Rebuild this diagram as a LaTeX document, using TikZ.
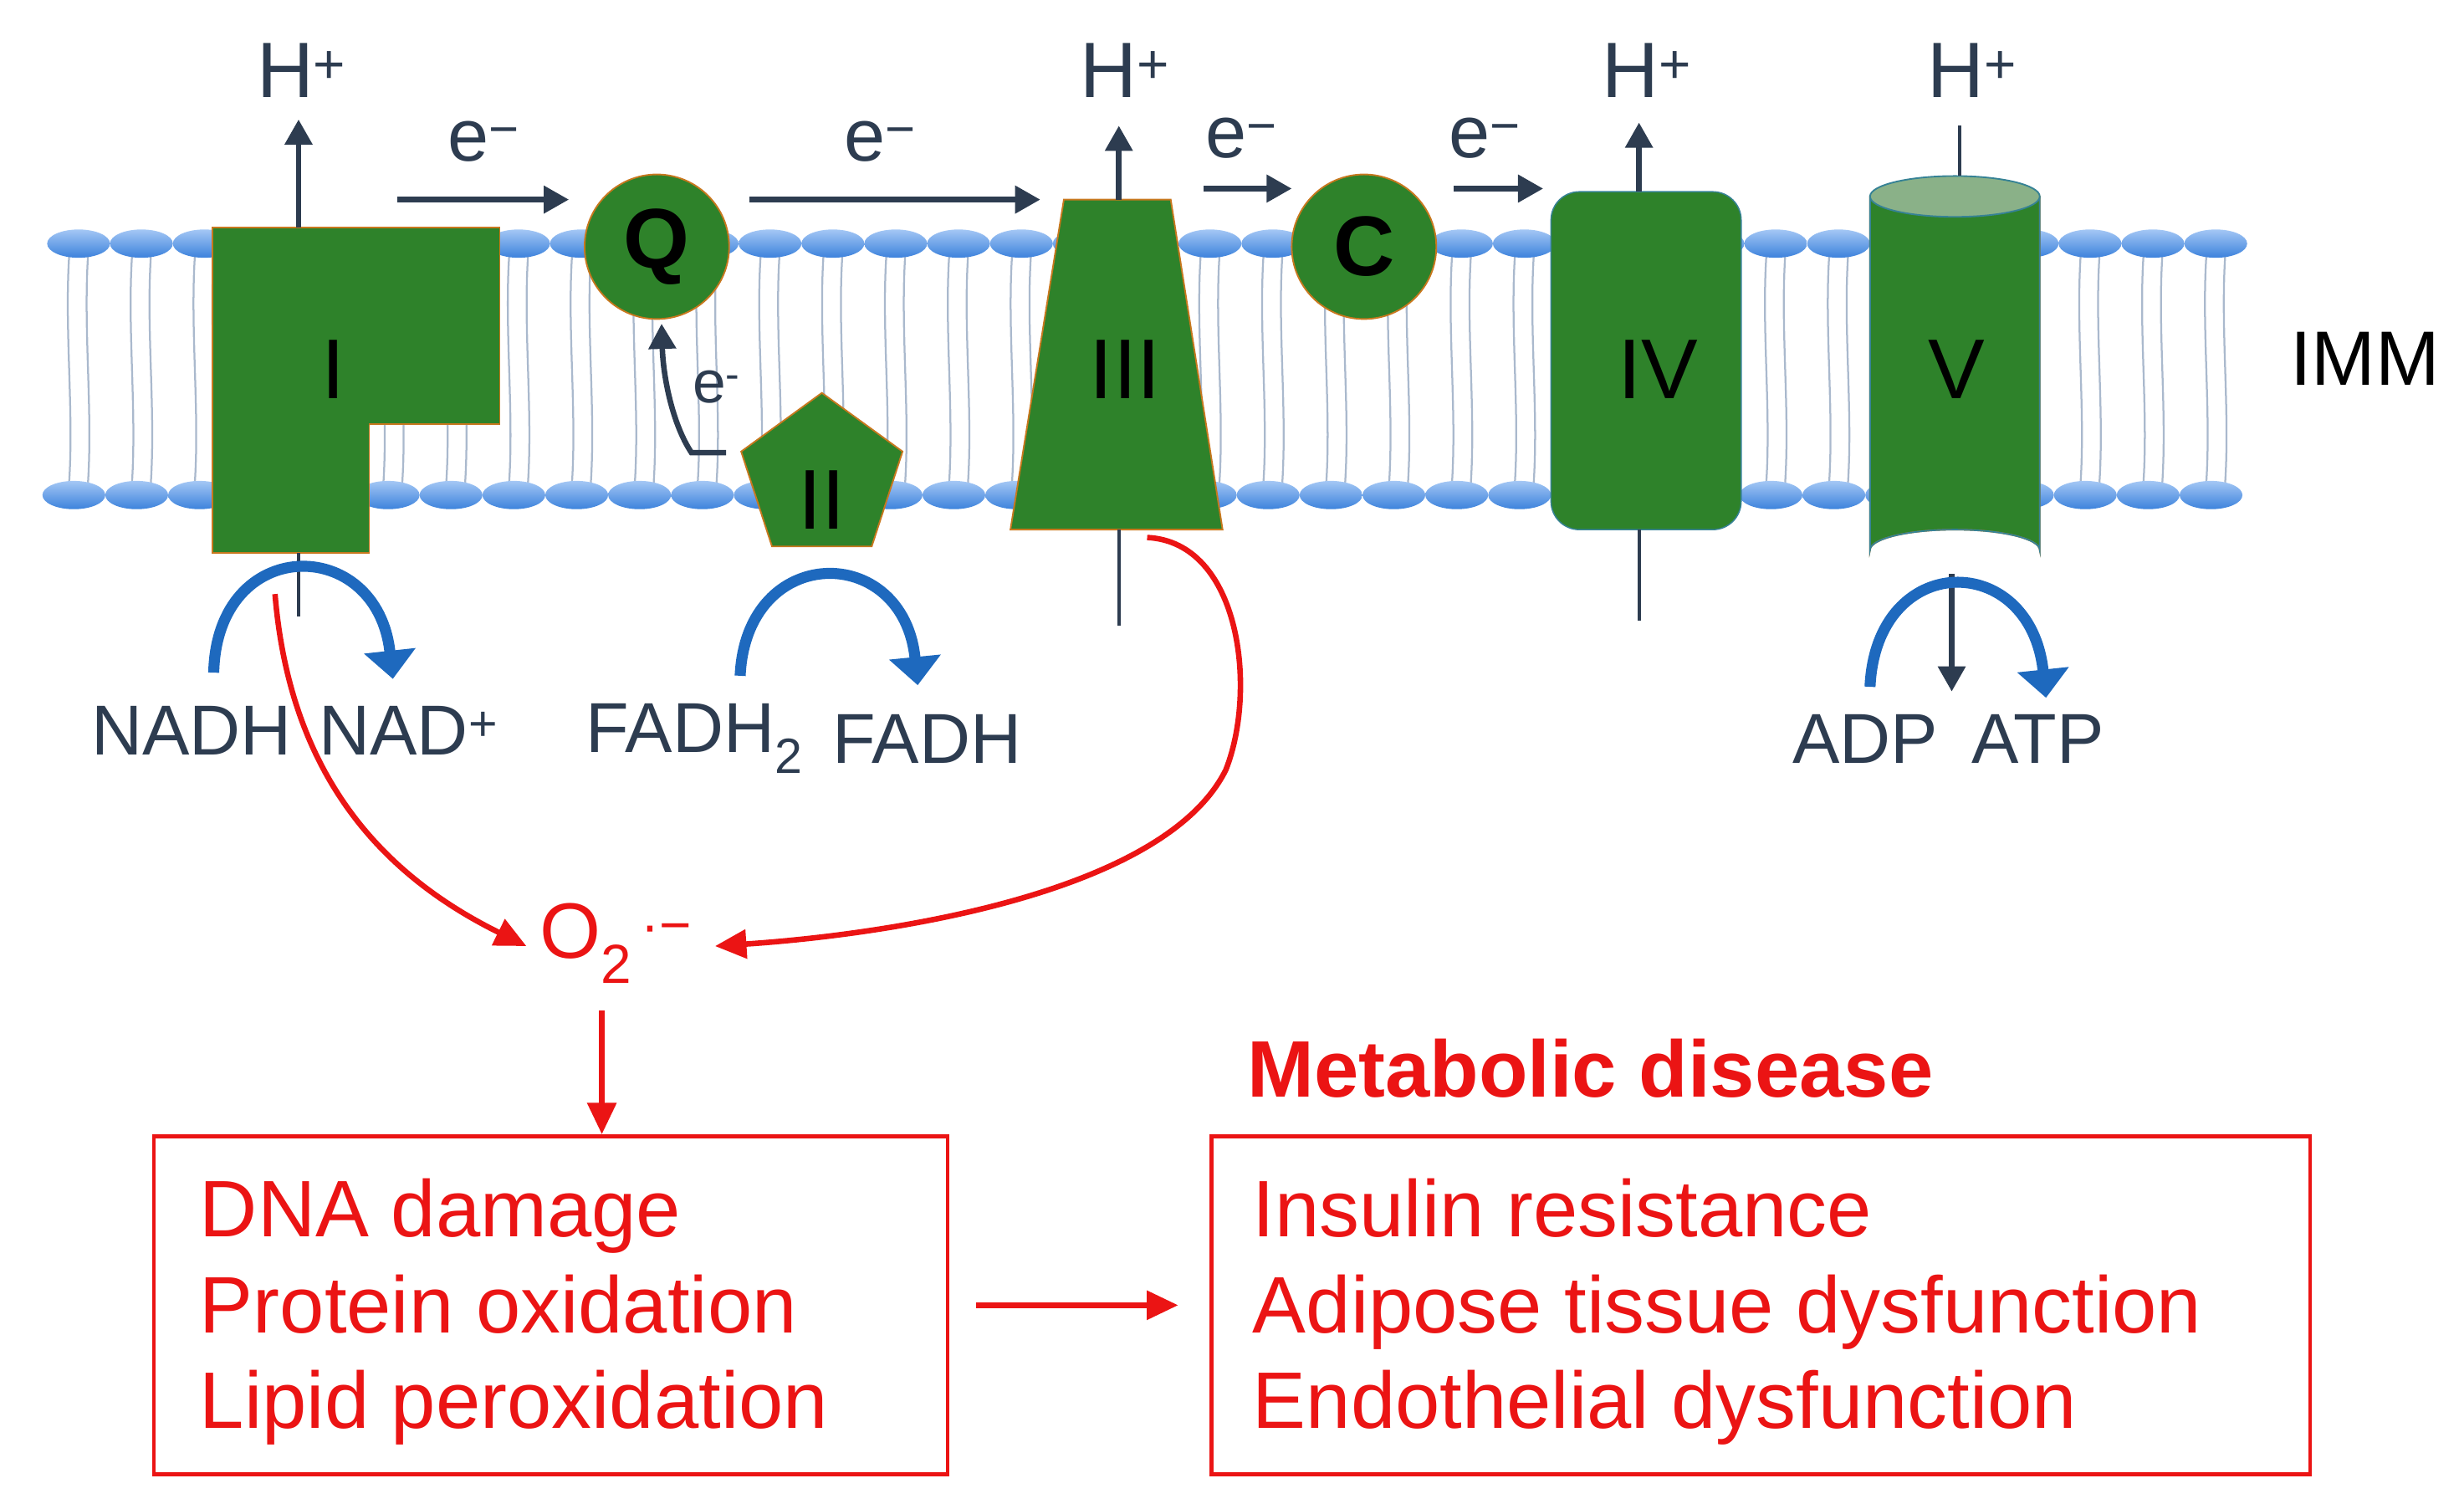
\documentclass[tikz,border=0pt]{standalone}
\usepackage{fontspec}
\setmainfont{Liberation Sans}
\usetikzlibrary{arrows.meta,shapes.geometric}
\definecolor{prot}{RGB}{46,130,42}
\definecolor{protedge}{RGB}{200,120,30}
\definecolor{head}{RGB}{125,175,240}
\definecolor{headedge}{RGB}{60,130,220}
\definecolor{tail}{RGB}{170,185,205}
\definecolor{dark}{RGB}{45,60,80}
\definecolor{bl}{RGB}{30,105,190}
\definecolor{rd}{RGB}{235,20,20}
\begin{document}
\begin{tikzpicture}[x=1pt,y=-1pt,
  prot/.style={fill=prot,draw=protedge,line width=1pt},
  plab/.style={font=\fontsize{54}{54}\selectfont},
  hlab/.style={font=\fontsize{50}{50}\selectfont,text=dark},
  elab/.style={font=\fontsize{47}{47}\selectfont,text=dark},
  sub/.style={font=\fontsize{45}{45}\selectfont,text=dark},
  darr/.style={draw=dark,line width=3.5pt,-{Triangle[length=16pt,width=17pt]}},
  dline/.style={draw=dark,line width=2.2pt},
  barr/.style={draw=bl,line width=7pt,-{Triangle[length=18pt,width=32pt]}},
  rarr/.style={draw=rd,line width=3.5pt,-{Triangle[length=20pt,width=18pt]}},
  rtxt/.style={font=\fontsize{51}{51}\selectfont,text=rd,anchor=base west,inner sep=0pt},
  rbox/.style={draw=rd,line width=2.5pt}]
\useasboundingbox (0,0) rectangle (1568,960);
% lipid tails
\foreach \x in {50,90,...,1430}{
  \draw[tail,line width=1.2pt] (\x-6,163) .. controls (\x-9,210) and (\x-3,260) .. (\x-6,307);
  \draw[tail,line width=1.2pt] (\x+6,163) .. controls (\x+3,210) and (\x+9,260) .. (\x+6,307);
}
\foreach \x in {50,90,...,1430}{
  \shade[top color=head!70!white,bottom color=headedge] (\x,155) ellipse (20 and 9);
  \shade[top color=head!70!white,bottom color=headedge] (\x-3,315) ellipse (20 and 9);
}
% Complex I
\draw[prot] (135,145) -- (318,145) -- (318,270) -- (235,270) -- (235,352) -- (135,352) -- cycle;
\node[plab] (cI) at (212,235) {I};
\coordinate (Itop) at (190,145);
\node[hlab] (hI) at (192,45) {H\textsuperscript{+}};
\draw[darr] (Itop) -- (190,76);
\coordinate (Ibot) at (190,352);
\draw[dline] (Ibot) -- (190,392);
% Q
\node[circle,prot,minimum size=92pt,inner sep=0pt,font=\fontsize{54}{54}\selectfont\bfseries] (Q) at (418,157) {Q};
% e- arrows
\coordinate (e1a) at (253,127); \draw[darr] (e1a) -- (362,127);
\node[elab] (e1) at (308,90) {e\textsuperscript{−}};
\coordinate (e2a) at (477,127); \draw[darr] (e2a) -- (662,127);
\node[elab] (e2) at (560,90) {e\textsuperscript{−}};
% II
\node[regular polygon,regular polygon sides=5,prot,minimum size=108pt,inner sep=0pt,plab] (II) at (523,304) {};
\node[plab] (IIl) at (523,318) {II};
\coordinate (IIe) at (462,288);
\draw[darr] (IIe) -- (440,288) .. controls (428,270) and (422,240) .. (421,206);
\node[font=\fontsize{38}{38}\selectfont,text=dark] (e3) at (456,246) {e\textsuperscript{-}};
% III
\draw[prot] (677,127) -- (745,127) -- (778,337) -- (643,337) -- cycle;
\node[plab] (cIII) at (716,235) {III};
\node[hlab] (hIII) at (716,45) {H\textsuperscript{+}};
\coordinate (IIIt) at (712,127); \draw[darr] (IIIt) -- (712,80);
\coordinate (IIIb) at (712,337); \draw[dline] (IIIb) -- (712,398);
% C
\coordinate (e4a) at (766,120); \draw[darr] (e4a) -- (822,120);
\node[elab] (e4) at (790,88) {e\textsuperscript{−}};
\node[circle,prot,minimum size=92pt,inner sep=0pt,font=\fontsize{54}{54}\selectfont\bfseries] (C) at (868,157) {C};
\coordinate (e5a) at (925,120); \draw[darr] (e5a) -- (982,120);
\node[elab] (e5) at (945,88) {e\textsuperscript{−}};
% IV
\draw[fill=prot,draw=headedge!60!prot,line width=0.8pt,rounded corners=18pt] (987,122) rectangle (1108,337);
\node[plab] (cIV) at (1055,235) {IV};
\node[hlab] (hIV) at (1048,45) {H\textsuperscript{+}};
\coordinate (IVt) at (1043,122); \draw[darr] (IVt) -- (1043,78);
\coordinate (IVb) at (1043,337); \draw[dline] (IVb) -- (1043,395);
% V cylinder
\fill[prot] (1190,125) -- (1190,350) arc[start angle=180,end angle=360,x radius=54,y radius=13] -- (1298,125) -- cycle;
\draw[draw=headedge!60!prot,line width=1pt] (1190,125) -- (1190,350) arc[start angle=180,end angle=360,x radius=54,y radius=13] -- (1298,125);
\fill[prot!55!white!85!gray,draw=headedge!60!prot,line width=1pt] (1244,125) ellipse (54 and 13);
\node[plab] (cV) at (1245,235) {V};
\node[hlab] (hV) at (1255,45) {H\textsuperscript{+}};
\coordinate (Vt) at (1247,112); \draw[dline] (Vt) -- (1247,80);
\coordinate (Vb) at (1242,365); \draw[darr] (Vb) -- (1242,440);
% blue arrows
\draw[barr] (136,428) .. controls (138,340) and (240,340) .. (250,432);
\draw[barr] (471,430) .. controls (475,345) and (575,345) .. (584,436);
\draw[barr] (1190,437) .. controls (1194,350) and (1292,350) .. (1302,444);
% substrates
\node[sub] (nadh) at (122,465) {NADH};
\node[sub] (nad) at (260,465) {NAD\textsuperscript{+}};
\node[sub] (fadh2) at (442,470) {FADH\textsubscript{2}};
\node[sub] (fadh) at (590,470) {FADH};
\node[sub] (adp) at (1187,470) {ADP};
\node[sub] (atp) at (1297,470) {ATP};
\node[font=\fontsize{49}{49}\selectfont] (imm) at (1505,228) {IMM};
% ROS
\node[font=\fontsize{50}{50}\selectfont,text=rd] (o2) at (392,600) {O\textsubscript{2}\textsuperscript{\,·−}};
\coordinate (r1) at (175,378);
\draw[rarr] (r1) .. controls (185,500) and (250,560) .. (335,602);
\coordinate (r2) at (730,342);
\draw[rarr] (r2) .. controls (790,345) and (800,440) .. (780,490) .. controls (740,570) and (560,595) .. (455,602);
\coordinate (r3) at (383,643);
\node[rbox,minimum width=505pt,minimum height=215pt,inner sep=0pt] (b1) at (350.5,830.5) {};
\draw[rarr] (r3) -- (b1.north -| r3);
\node[rtxt] (t1a) at (127,787) {DNA damage};
\node[rtxt] (t1b) at (127,848) {Protein oxidation};
\node[rtxt] (t1c) at (127,909) {Lipid peroxidation};
\node[rbox,minimum width=699pt,minimum height=215pt,inner sep=0pt] (b2) at (1120.5,830.5) {};
\node[rtxt] (t2a) at (797,787) {Insulin resistance};
\node[rtxt] (t2b) at (797,848) {Adipose tissue dysfunction};
\node[rtxt] (t2c) at (797,909) {Endothelial dysfunction};
\draw[rarr] (b1.east) ++(17,0) coordinate (r4) (r4) -- ([xshift=-20pt]b2.west);
\node[font=\fontsize{51}{51}\selectfont\bfseries,text=rd] (md) at (1012,680) {Metabolic disease};
\end{tikzpicture}
\end{document}
